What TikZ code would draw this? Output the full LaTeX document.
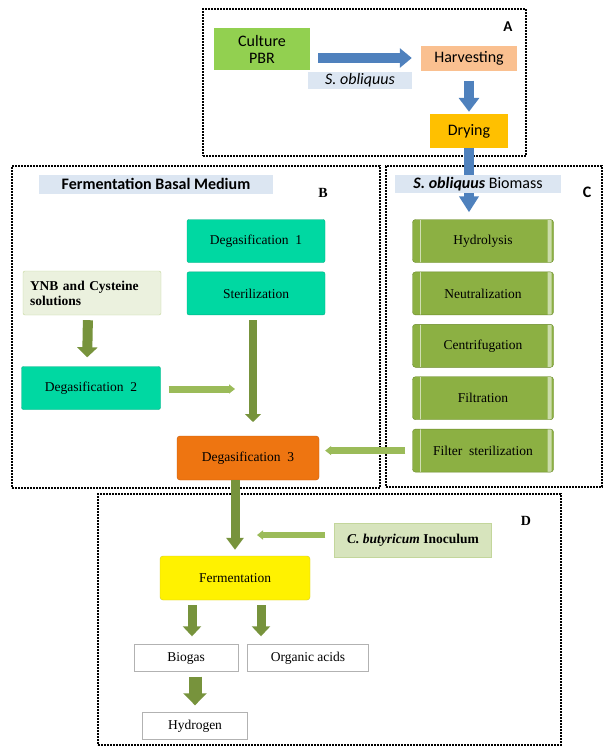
\documentclass[tikz,border=0pt]{standalone}
\usepackage{fontspec}
\setmainfont{Liberation Serif}
\setsansfont{Carlito}
\usetikzlibrary{arrows.meta}
\usetikzlibrary{fit}
\usetikzlibrary{positioning}

\definecolor{cultgreen}{HTML}{92D050}
\definecolor{harvpeach}{HTML}{FAC090}
\definecolor{dryorange}{HTML}{FFC000}
\definecolor{labelblue}{HTML}{DCE6F2}
\definecolor{arrblue}{HTML}{4F81BD}
\definecolor{medteal}{HTML}{00D8A2}
\definecolor{medtealdark}{HTML}{00AE84}
\definecolor{olivebox}{HTML}{8CB043}
\definecolor{oliveedge}{HTML}{6A8A2A}
\definecolor{olivearr}{HTML}{77933C}
\definecolor{lightarr}{HTML}{9BBB59}
\definecolor{ynbgreen}{HTML}{EBF1DE}
\definecolor{inocgreen}{HTML}{D7E4BD}
\definecolor{paleedge}{HTML}{C3D69B}
\definecolor{degorange}{HTML}{EE7511}
\definecolor{degorangedark}{HTML}{C55A0A}

\begin{document}
\begin{tikzpicture}[x=1pt, y=-1pt,
  frame/.style={draw, line width=1.8pt, dash pattern=on 2pt off 1pt, inner sep=0pt},
  sanstext/.style={font=\sffamily\fontsize{16}{17}\selectfont},
  sertext/.style={font=\fontsize{13.5}{15}\selectfont},
  flatbox/.style={sanstext, align=center, inner sep=0pt},
  tealbox/.style={sertext, fill=medteal, draw=medtealdark, rounded corners=2pt, minimum width=138pt, minimum height=43pt},
  olivestep/.style={sertext, fill=olivebox, draw=oliveedge, rounded corners=3pt, minimum width=141pt, minimum height=43pt,
    path picture={
      \draw [white!60!olivebox, line width=1.5pt] ([shift={(8pt,-9pt)}]path picture bounding box.south west) -- ([shift={(8pt,9pt)}]path picture bounding box.north west);
      \fill [white!55!olivebox] ([shift={(-6pt,4pt)}]path picture bounding box.north east) rectangle ([shift={(-2pt,-4pt)}]path picture bounding box.south east);}},
  outbox/.style={sertext, fill=white, draw=black!30, minimum height=27pt},
  bluearrow/.style={draw=arrblue, line width=10pt, -{Triangle[length=12pt,width=19pt]}, arrblue},
  olivearrow/.style={draw=olivearr, line width=9pt, -{Triangle[length=10pt,width=18pt]}, olivearr},
  thinarrow/.style={draw=lightarr, line width=7pt, -{Triangle[length=6pt,width=9pt]}, lightarr},
  letter/.style={font=\bfseries\fontsize{14}{14}\selectfont}]

\useasboundingbox (0,0) rectangle (603,747);

% dotted panels
\node [frame, fit={(203,9) (526,156)}] (panelA) {};
\node [frame, fit={(12,166) (380,488)}] (panelB) {};
\node [frame, fit={(386,166) (602,487)}] (panelC) {};
\node [frame, fit={(98,494) (561,745)}] (panelD) {};

\node (letA) [letter, font=\sffamily\bfseries\fontsize{15}{15}\selectfont] at (508,27) {A};
\node (letB) [letter] at (323,193) {B};
\node (letC) [letter, font=\sffamily\bfseries\fontsize{16}{16}\selectfont] at (587,192) {C};
\node (letD) [letter] at (526,521) {D};

% panel A
\node (cult) [flatbox, fill=cultgreen, minimum width=96pt, minimum height=42pt] at (262,49) {Culture\\PBR};
\node (harv) [flatbox, fill=harvpeach, minimum width=96pt, minimum height=25pt] at (469,58) {Harvesting};
\node (dry) [flatbox, fill=dryorange, minimum width=78pt, minimum height=34pt] at (469,131) {Drying};
\node (sobl) [flatbox, fill=labelblue, minimum width=104pt, minimum height=17pt] at (360,80) {\textit{S. obliquus}};

% panel B
\node (fbm) [flatbox, fill=labelblue, minimum width=234pt, minimum height=19pt] at (156,184) {\textbf{Fermentation Basal Medium}};
\node (deg1) [tealbox] at (256,241) {Degasification\ \ 1};
\node (ster) [tealbox, below=9pt of deg1] {Sterilization};
\node (ynb) [sertext, fill=ynbgreen, draw=paleedge, rounded corners=2pt, minimum width=138pt, minimum height=44pt,
  text width=124pt, align=left, font=\bfseries\fontsize{13.5}{15}\selectfont] at (92,293) {YNB and Cysteine solutions};
\node (deg2) [tealbox, minimum width=139pt] at (91,388) {Degasification\ \ 2};
\node (deg3) [sertext, fill=degorange, draw=degorangedark, rounded corners=3pt, minimum width=142pt, minimum height=44pt] at (248,458) {Degasification\ \ 3};

% panel C
\node (biomass) [flatbox, fill=labelblue, minimum width=166pt, minimum height=18pt] at (478,184) {\textbf{\textit{S. obliquus}} Biomass};
\node (hydro) [olivestep] at (483,241) {Hydrolysis};
\node (neut) [olivestep, below=9pt of hydro] {Neutralization};
\node (centr) [olivestep, below=9pt of neut] {Centrifugation};
\node (filtr) [olivestep, below=9pt of centr] {Filtration};
\node (filst) [olivestep, below=9pt of filtr] {Filter\ \ sterilization};

% panel D
\node (inoc) [sertext, fill=inocgreen, draw=paleedge, minimum width=157pt, minimum height=34pt, font=\bfseries\fontsize{13.5}{15}\selectfont] at (413,540) {\textit{C. butyricum} Inoculum};
\node (ferm) [sertext, fill=yellow, draw=yellow!80!black, rounded corners=3pt, minimum width=150pt, minimum height=44pt] at (235,578) {Fermentation};
\node (biogas) [outbox, minimum width=104pt] at (186,658) {Biogas};
\node (orgacid) [outbox, minimum width=121pt] at (308,658) {Organic acids};
\node (hydrogen) [outbox, minimum width=105pt] at (195,726) {Hydrogen};

\coordinate (deg2tip) at (235,389);
\coordinate (stertip) at (253,422);
\coordinate (inoctip) at (257,535);

\draw [bluearrow, shorten <=8pt, shorten >=9pt] (cult.east |- harv.west) -- (harv.west);
\draw [bluearrow, -{Triangle[length=14pt,width=20pt]}, shorten <=10pt, shorten >=2pt] (harv.south) -- (dry.north);
\draw [bluearrow, -] (dry.south) -- (dry.south |- biomass.north);
\draw [bluearrow, -{Triangle[length=16pt,width=19pt]}, shorten >=7pt] (dry.south |- biomass.south) -- (dry.south |- hydro.north);

\draw [olivearrow, line width=10pt, -{Triangle[length=10pt,width=20pt]}, shorten <=5pt, shorten >=9pt] ([xshift=-4pt]ynb.south) -- ([xshift=-4pt]deg2.north);
\draw [thinarrow, shorten <=8pt] (deg2.east |- deg2tip) -- (deg2tip);
\draw [olivearrow, line width=8pt, -{Triangle[length=8pt,width=16pt]}, shorten <=5pt] (ster.south -| stertip) -- (stertip);
\draw [thinarrow, shorten <=7pt, shorten >=6pt] (filst.west) -- (filst.west -| deg3.east);

\draw [olivearrow, -{Triangle[length=12pt,width=17pt]}, shorten >=6pt] (ferm.north |- deg3.south) -- (ferm.north);
\draw [thinarrow, line width=6pt, shorten <=9pt] (inoc.west |- inoctip) -- (inoctip);
\draw [olivearrow, shorten <=5pt, shorten >=8pt] ([xshift=-43pt]ferm.south) -- ([xshift=-43pt]ferm.south |- biogas.north);
\draw [olivearrow, shorten <=5pt, shorten >=8pt] ([xshift=26pt]ferm.south) -- ([xshift=26pt]ferm.south |- orgacid.north);
\draw [olivearrow, line width=13pt, -{Triangle[length=12pt,width=23pt]}, shorten <=5pt, shorten >=7pt] (hydrogen.north |- biogas.south) -- (hydrogen.north);
\end{tikzpicture}
\end{document}
